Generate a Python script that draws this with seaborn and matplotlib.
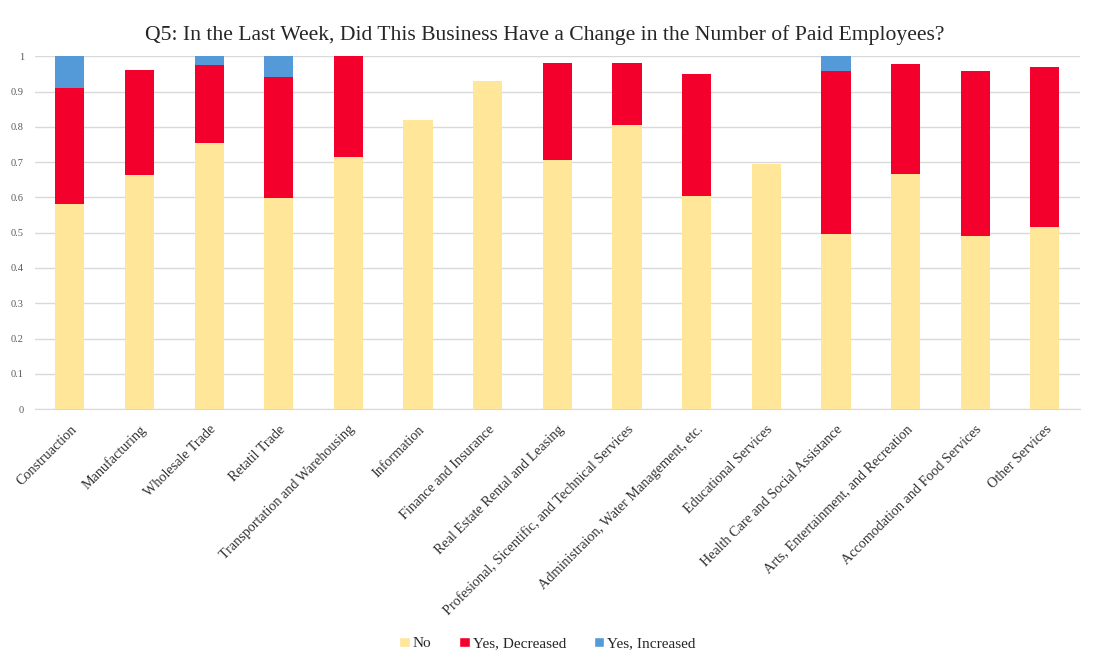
import numpy as np
import pandas as pd
import seaborn as sns
import matplotlib.pyplot as plt
from matplotlib.patches import Patch

sectors = ['Construaction', 'Manufacturing', 'Wholesale Trade', 'Retatil Trade',
           'Transportation and Warehousing', 'Information', 'Finance and Insurance',
           'Real Estate Rental and Leasing', 'Profesional, Sicentific, and Technical Services',
           'Administraion, Water Management, etc.', 'Educational Services',
           'Health Care and Social Assistance', 'Arts, Entertainment, and Recreation',
           'Accomodation and Food Services', 'Other Services']
no = [0.58, 0.663, 0.754, 0.599, 0.715, 0.82, 0.929, 0.707, 0.805, 0.603, 0.696, 0.496, 0.667, 0.492, 0.516]
decreased = [0.33, 0.297, 0.22, 0.343, 0.285, 0.0, 0.0, 0.274, 0.176, 0.347, 0.0, 0.461, 0.31, 0.465, 0.453]
increased = [0.09, 0.0, 0.026, 0.058, 0.0, 0.0, 0.0, 0.0, 0.0, 0.0, 0.0, 0.043, 0.0, 0.0, 0.0]

series = ['No', 'Yes, Decreased', 'Yes, Increased']
colors = ['#FFE699', '#F4002C', '#549AD8']

df = pd.DataFrame({'sector': sectors, 'No': no, 'Yes, Decreased': decreased, 'Yes, Increased': increased})
df['c1'] = df['No']
df['c2'] = df['c1'] + df['Yes, Decreased']
df['c3'] = df['c2'] + df['Yes, Increased']

sns.set_style('white')
plt.rcParams['font.family'] = ['Liberation Serif', 'DejaVu Serif']

fig = plt.figure(figsize=(10.95, 6.62), dpi=100)
ax = fig.add_axes([0.032, 0.382, 0.954, 0.533])

# draw cumulative tops first, then lower segments over them
for col, c in zip(['c3', 'c2', 'c1'], colors[::-1]):
    sns.barplot(data=df, x='sector', y=col, color=c, width=0.42, ax=ax,
                saturation=1, linewidth=0, zorder=3)

ax.set_ylim(0, 1)
ax.set_xlim(-0.5, len(sectors) - 0.5)
yt = np.arange(0, 1.01, 0.1)
ax.set_yticks(yt, ['0', '0.1', '0.2', '0.3', '0.4', '0.5', '0.6', '0.7', '0.8', '0.9', '1'])
ax.tick_params(axis='y', length=0, labelsize=7.5, labelcolor='#595959', pad=8)
ax.tick_params(axis='x', length=0, labelsize=10.2, labelcolor='#333333', pad=10)
plt.setp(ax.get_xticklabels(), rotation=45, ha='right', rotation_mode='anchor')
ax.grid(axis='y', color='#D9D9D9', linewidth=1, zorder=0)
for s in ['top', 'right', 'left']:
    ax.spines[s].set_visible(False)
ax.spines['bottom'].set_color('#D9D9D9')
ax.set_xlabel('')
ax.set_ylabel('')

ax.set_title('Q5: In the Last Week, Did This Business Have a Change in the Number of Paid Employees?',
             fontsize=15.6, pad=12, x=0.488)

handles = [Patch(facecolor=c, label=s) for c, s in zip(colors, series)]
fig.legend(handles=handles, loc='center', bbox_to_anchor=(0.5, 0.028), ncol=3, frameon=False,
           fontsize=11, handlelength=0.7, handleheight=0.7, handletextpad=0.2, columnspacing=1.8)

plt.savefig('out.png', dpi=100)
